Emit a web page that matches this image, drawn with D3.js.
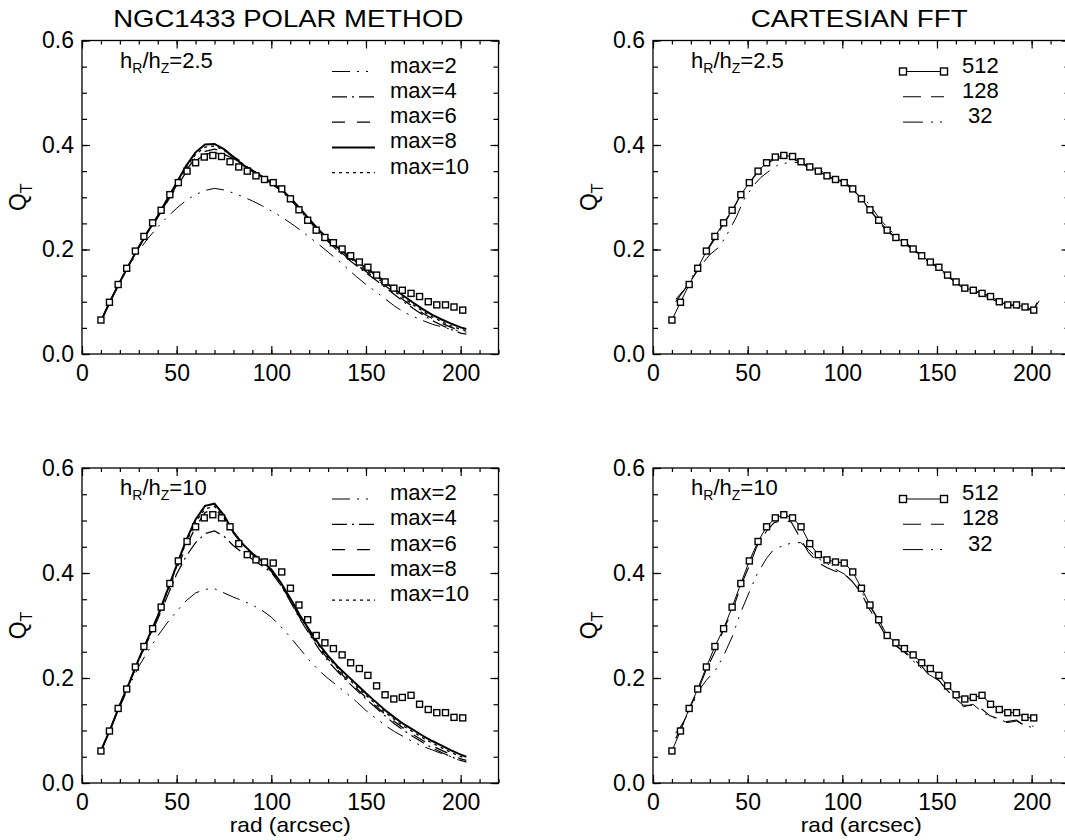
<!DOCTYPE html>
<html>
<head>
<meta charset="utf-8">
<script src="https://cdn.jsdelivr.net/npm/d3@7"></script>
<style>
  body { margin: 0; background: #fff; }
  svg { display: block; }
  text { font-family: "Liberation Sans", Arial, Helvetica, sans-serif; fill: #000; white-space: pre; }
</style>
</head>
<body>
<svg id="chart" width="1065" height="840"></svg>
<script>
// ---- data ----
var xTicks = [0, 50, 100, 150, 200];
var yTicks = [0.0, 0.2, 0.4, 0.6];
var titles = ["NGC1433 POLAR METHOD", "CARTESIAN FFT"];
var ratios = ["2.5", "10"];
var polarLegend = ["max=2", "max=4", "max=6", "max=8", "max=10"];
var fftLegend = ["512", "128", " 32"];

// 512 grid FFT points (squares), same in both columns
var radSq = [10.0, 14.5, 19.1, 23.6, 28.2, 32.7, 37.3, 41.8, 46.4, 50.9, 55.5, 60.0, 64.6, 69.1, 73.7, 78.2, 82.8, 87.3, 91.9, 96.4, 101.0,
  105.5, 110.1, 114.6, 119.2, 123.7, 128.3, 132.8, 137.4, 141.9, 146.5, 151.0, 155.6, 160.1, 164.7, 169.2, 173.8, 178.3, 182.9, 187.4, 192.0, 196.5, 201.1];
var sqLow = [0.065, 0.099, 0.133, 0.164, 0.197, 0.225, 0.251, 0.275, 0.305, 0.328, 0.350, 0.366, 0.377, 0.380, 0.378, 0.368, 0.358, 0.350, 0.341, 0.334, 0.328,
  0.316, 0.297, 0.276, 0.256, 0.237, 0.223, 0.213, 0.201, 0.188, 0.176, 0.166, 0.151, 0.138, 0.126, 0.122, 0.116, 0.110, 0.100, 0.094, 0.094, 0.090, 0.084];
var sqHigh = [0.061, 0.099, 0.142, 0.179, 0.221, 0.260, 0.294, 0.335, 0.380, 0.423, 0.460, 0.488, 0.505, 0.511, 0.505, 0.488, 0.456, 0.435, 0.425, 0.421, 0.419,
  0.402, 0.371, 0.339, 0.311, 0.281, 0.267, 0.256, 0.244, 0.229, 0.218, 0.205, 0.185, 0.168, 0.160, 0.163, 0.167, 0.150, 0.140, 0.134, 0.134, 0.125, 0.124];

// polar method curves
var radPolar = [10, 15, 20, 25, 30, 35, 40, 45, 50, 55, 60, 65, 70, 75, 80, 85, 90, 95, 100, 105, 110, 115, 120, 125, 130,
  135, 140, 145, 150, 155, 160, 165, 170, 175, 180, 185, 190, 195, 200, 203];
var max2Low = [0.063, 0.102, 0.137, 0.170, 0.198, 0.222, 0.243, 0.262, 0.279, 0.294, 0.305, 0.313, 0.317, 0.314, 0.308, 0.301, 0.293, 0.284, 0.274, 0.263,
  0.251, 0.238, 0.224, 0.210, 0.195, 0.180, 0.164, 0.148, 0.133, 0.120, 0.106, 0.092, 0.080, 0.072, 0.064, 0.057, 0.052, 0.047, 0.044, 0.042];
var max4Low = [0.063, 0.102, 0.138, 0.172, 0.204, 0.234, 0.261, 0.291, 0.320, 0.348, 0.370, 0.382, 0.385, 0.382, 0.374, 0.364, 0.351, 0.339, 0.326, 0.313,
  0.296, 0.276, 0.255, 0.234, 0.215, 0.198, 0.183, 0.169, 0.155, 0.142, 0.128, 0.114, 0.100, 0.087, 0.075, 0.064, 0.055, 0.047, 0.040, 0.038];
var max6Low = [0.063, 0.102, 0.138, 0.172, 0.205, 0.235, 0.262, 0.293, 0.323, 0.352, 0.375, 0.388, 0.392, 0.388, 0.378, 0.366, 0.352, 0.340, 0.327, 0.314,
  0.297, 0.277, 0.256, 0.235, 0.216, 0.200, 0.185, 0.171, 0.158, 0.145, 0.131, 0.117, 0.103, 0.090, 0.078, 0.068, 0.059, 0.051, 0.044, 0.042];
var max8Low = [0.063, 0.102, 0.138, 0.172, 0.205, 0.236, 0.264, 0.296, 0.328, 0.360, 0.386, 0.401, 0.402, 0.392, 0.377, 0.362, 0.350, 0.340, 0.328, 0.316,
  0.299, 0.279, 0.258, 0.238, 0.220, 0.204, 0.190, 0.177, 0.165, 0.152, 0.138, 0.124, 0.111, 0.098, 0.086, 0.075, 0.066, 0.058, 0.051, 0.048];
var max10Low = [0.063, 0.102, 0.138, 0.172, 0.205, 0.236, 0.263, 0.294, 0.325, 0.357, 0.382, 0.396, 0.398, 0.390, 0.377, 0.363, 0.350, 0.339, 0.327, 0.315,
  0.298, 0.278, 0.257, 0.236, 0.218, 0.202, 0.188, 0.174, 0.161, 0.148, 0.134, 0.120, 0.107, 0.094, 0.082, 0.071, 0.062, 0.054, 0.047, 0.045];

var max2High = [0.061, 0.102, 0.145, 0.185, 0.222, 0.252, 0.280, 0.305, 0.327, 0.347, 0.362, 0.369, 0.370, 0.362, 0.354, 0.347, 0.339, 0.329, 0.316, 0.298,
  0.278, 0.256, 0.234, 0.215, 0.199, 0.185, 0.170, 0.155, 0.138, 0.124, 0.110, 0.098, 0.088, 0.078, 0.070, 0.063, 0.056, 0.050, 0.042, 0.040];
var max4High = [0.061, 0.103, 0.148, 0.190, 0.233, 0.273, 0.312, 0.355, 0.398, 0.432, 0.458, 0.475, 0.480, 0.470, 0.452, 0.438, 0.426, 0.414, 0.401, 0.377,
  0.346, 0.313, 0.284, 0.256, 0.232, 0.212, 0.194, 0.177, 0.160, 0.144, 0.128, 0.113, 0.100, 0.088, 0.077, 0.067, 0.058, 0.050, 0.043, 0.040];
var max6High = [0.061, 0.103, 0.149, 0.191, 0.235, 0.276, 0.316, 0.362, 0.408, 0.450, 0.488, 0.515, 0.522, 0.505, 0.476, 0.453, 0.435, 0.420, 0.403, 0.378,
  0.348, 0.315, 0.287, 0.259, 0.236, 0.215, 0.197, 0.180, 0.163, 0.147, 0.131, 0.117, 0.104, 0.092, 0.081, 0.071, 0.062, 0.054, 0.046, 0.043];
var max8High = [0.061, 0.103, 0.149, 0.191, 0.236, 0.277, 0.318, 0.366, 0.415, 0.462, 0.502, 0.528, 0.532, 0.510, 0.478, 0.455, 0.437, 0.423, 0.407, 0.382,
  0.352, 0.320, 0.292, 0.265, 0.242, 0.222, 0.205, 0.188, 0.171, 0.155, 0.139, 0.125, 0.112, 0.101, 0.090, 0.080, 0.071, 0.062, 0.054, 0.050];
var max10High = [0.061, 0.103, 0.149, 0.191, 0.236, 0.277, 0.318, 0.365, 0.413, 0.458, 0.497, 0.522, 0.527, 0.507, 0.477, 0.454, 0.436, 0.422, 0.405, 0.380,
  0.350, 0.318, 0.290, 0.262, 0.239, 0.219, 0.201, 0.184, 0.167, 0.151, 0.135, 0.121, 0.108, 0.097, 0.086, 0.076, 0.067, 0.058, 0.050, 0.047];

// cartesian FFT coarser grids
var rad128Low = [12, 15, 19, 24, 28, 33, 37, 42, 46, 51, 55, 60, 64, 69, 73, 78, 82, 87, 92, 96, 101, 105, 110, 114, 119, 123,
  128, 133, 137, 142, 146, 151, 155, 160, 164, 169, 174, 178, 183, 187, 192, 196, 201, 203];
var q128Low = [0.100, 0.115, 0.135, 0.162, 0.195, 0.222, 0.248, 0.274, 0.303, 0.327, 0.347, 0.363, 0.373, 0.376, 0.375, 0.366, 0.357, 0.350, 0.341, 0.333,
  0.327, 0.316, 0.298, 0.277, 0.256, 0.236, 0.223, 0.212, 0.200, 0.187, 0.175, 0.165, 0.150, 0.137, 0.125, 0.121, 0.116, 0.110, 0.100, 0.094, 0.092, 0.088, 0.084, 0.100];
var rad32Low = [12, 17, 21, 26, 30, 35, 39, 44, 48, 53, 57, 62, 66, 71, 75, 80, 84, 89, 93, 98, 102, 107, 111, 116, 120, 125,
  129, 134, 138, 143, 147, 152, 156, 161, 165, 170, 174, 179, 183, 188, 192, 197, 201, 204];
var q32Low = [0.105, 0.125, 0.150, 0.172, 0.190, 0.205, 0.228, 0.262, 0.295, 0.322, 0.338, 0.352, 0.362, 0.366, 0.367, 0.363, 0.357, 0.350, 0.342, 0.334,
  0.326, 0.316, 0.300, 0.278, 0.257, 0.238, 0.224, 0.212, 0.200, 0.186, 0.173, 0.160, 0.147, 0.134, 0.124, 0.118, 0.112, 0.105, 0.098, 0.092, 0.088, 0.085, 0.084, 0.102];
var rad128High = [12, 15, 19, 24, 28, 33, 37, 42, 46, 51, 55, 60, 64, 69, 73, 78, 82, 87, 92, 96, 101, 105, 110, 114, 119, 123,
  128, 133, 137, 142, 146, 151, 155, 160, 164, 169, 174, 178, 183, 187, 192, 196, 201];
var q128High = [0.085, 0.105, 0.140, 0.178, 0.215, 0.252, 0.290, 0.328, 0.372, 0.415, 0.452, 0.480, 0.496, 0.500, 0.497, 0.465, 0.440, 0.420, 0.410, 0.404,
  0.398, 0.385, 0.362, 0.333, 0.305, 0.280, 0.262, 0.250, 0.238, 0.222, 0.205, 0.196, 0.178, 0.160, 0.148, 0.148, 0.140, 0.128, 0.122, 0.117, 0.120, 0.110, 0.108];
var rad32High = [12, 15, 19, 24, 28, 33, 37, 42, 46, 51, 55, 60, 64, 69, 73, 78, 82, 87, 92, 96, 101, 105, 110, 114, 119, 123,
  128, 133, 137, 142, 146, 151, 155, 160, 164, 169, 174, 178, 183, 187, 192, 196, 201];
var q32High = [0.095, 0.110, 0.135, 0.175, 0.195, 0.215, 0.240, 0.280, 0.322, 0.365, 0.398, 0.428, 0.446, 0.452, 0.457, 0.458, 0.445, 0.428, 0.418, 0.408,
  0.398, 0.385, 0.365, 0.340, 0.310, 0.285, 0.262, 0.248, 0.234, 0.218, 0.206, 0.195, 0.178, 0.160, 0.145, 0.150, 0.135, 0.126, 0.122, 0.115, 0.118, 0.110, 0.105];

// ---- drawing ----
var svg = d3.select("#chart");
var PW = 416.5;
var TICKFONT = 23;

var polarStyles = [
  { dash: "18,7,2,7,2,7", w: 1.0 },
  { dash: "15,5,2,5", w: 1.2 },
  { dash: "13,12", w: 1.3 },
  { dash: null, w: 2.0 },
  { dash: "3,4", w: 1.3 }
];
var fftStyles = [
  { dash: null, w: 1.0 },
  { dash: "18,10", w: 1.1 },
  { dash: "20,8,2,7,2,8", w: 1.0 }
];

function drawPanel(p) {
  var x = d3.scaleLinear().domain([0, 220]).range([p.left, p.left + PW]);
  var y = d3.scaleLinear().domain([0, 0.6]).range([p.bottom, p.top]);
  var g = svg.append("g");
  var right = p.left + PW;

  var minorX = d3.range(0, 221, 10), minorY = d3.range(0, 0.601, 0.05);

  function styleAxis(a) {
    a.select(".domain").remove();
    a.selectAll(".tick line").attr("stroke", "#000").attr("stroke-width", 1.2);
    a.selectAll("text").attr("font-size", TICKFONT).attr("font-family", null).attr("fill", "#000");
    a.attr("font-family", null).attr("font-size", null);
  }
  // minor ticks on all four sides
  styleAxis(g.append("g").attr("transform", "translate(0," + p.bottom + ")")
    .call(d3.axisBottom(x).tickValues(minorX).tickSize(-4).tickFormat("")));
  styleAxis(g.append("g").attr("transform", "translate(0," + p.top + ")")
    .call(d3.axisTop(x).tickValues(minorX).tickSize(-4).tickFormat("")));
  styleAxis(g.append("g").attr("transform", "translate(" + p.left + ",0)")
    .call(d3.axisLeft(y).tickValues(minorY).tickSize(-5).tickFormat("")));
  styleAxis(g.append("g").attr("transform", "translate(" + right + ",0)")
    .call(d3.axisRight(y).tickValues(minorY).tickSize(-5).tickFormat("")));
  // major ticks with labels
  styleAxis(g.append("g").attr("transform", "translate(0," + p.bottom + ")")
    .call(d3.axisBottom(x).tickValues(xTicks).tickSize(-8).tickPadding(11).tickFormat(d3.format("d"))));
  styleAxis(g.append("g").attr("transform", "translate(0," + p.top + ")")
    .call(d3.axisTop(x).tickValues(xTicks).tickSize(-8).tickFormat("")));
  styleAxis(g.append("g").attr("transform", "translate(" + p.left + ",0)")
    .call(d3.axisLeft(y).tickValues(yTicks).tickSize(-8).tickPadding(8).tickFormat(d3.format(".1f"))));
  styleAxis(g.append("g").attr("transform", "translate(" + right + ",0)")
    .call(d3.axisRight(y).tickValues(yTicks).tickSize(-8).tickFormat("")));

  g.append("rect").attr("x", p.left).attr("y", p.top).attr("width", PW).attr("height", p.bottom - p.top)
    .attr("fill", "none").attr("stroke", "#000").attr("stroke-width", 1.3);

  var line = d3.line().x(function (d) { return x(d[0]); }).y(function (d) { return y(d[1]); });

  p.curves.forEach(function (c) {
    g.append("path").datum(d3.zip(c.rad, c.q)).attr("d", line)
      .attr("fill", "none").attr("stroke", "#000").attr("stroke-width", c.style.w)
      .attr("stroke-dasharray", c.style.dash);
  });

  g.selectAll(".sq").data(d3.zip(radSq, p.squares)).enter().append("rect")
    .attr("x", function (d) { return x(d[0]) - 3; })
    .attr("y", function (d) { return y(d[1]) - 3; })
    .attr("width", 6).attr("height", 6)
    .attr("fill", "#fff").attr("stroke", "#000").attr("stroke-width", 1.4);

  // ratio annotation
  var ann = g.append("text").attr("x", p.left + 38).attr("y", p.top + 27).attr("font-size", 22);
  ann.append("tspan").text("h");
  ann.append("tspan").attr("font-size", 14).attr("dy", 5).text("R");
  ann.append("tspan").attr("dy", -5).text("/h");
  ann.append("tspan").attr("font-size", 14).attr("dy", 5).text("Z");
  ann.append("tspan").attr("dy", -5).text("=" + p.ratio);

  // legend
  p.legend.forEach(function (lab, i) {
    var ly = p.top + 31 + i * 25.3;
    var st = p.legendStyles[i];
    g.append("line").attr("x1", p.lx1).attr("x2", p.lx2).attr("y1", ly).attr("y2", ly)
      .attr("stroke", "#000").attr("stroke-width", st.w).attr("stroke-dasharray", st.dash);
    if (p.legendMarker && i === 0) {
      [p.lx1, p.lx2].forEach(function (mx) {
        g.append("rect").attr("x", mx - 3.5).attr("y", ly - 3.5).attr("width", 7).attr("height", 7)
          .attr("fill", "#fff").attr("stroke", "#000").attr("stroke-width", 1.4);
      });
    }
    g.append("text").attr("x", p.lx2 + (p.legendMarker ? 18 : 15)).attr("y", ly + 1)
      .attr("font-size", 22).text(lab);
  });

  // y label Q_T
  var cy = (p.top + p.bottom) / 2;
  var q = g.append("text").attr("transform", "translate(" + (p.left - 56) + "," + cy + ") rotate(-90)")
    .attr("text-anchor", "middle").attr("font-size", 23);
  q.append("tspan").text("Q");
  q.append("tspan").attr("font-size", 16).attr("dy", 6).text("T");

  if (p.title) {
    g.append("text").attr("x", p.left + PW / 2 - 2).attr("y", 27).attr("text-anchor", "middle")
      .attr("font-size", 24).attr("textLength", p.titleLen).attr("lengthAdjust", "spacingAndGlyphs")
      .text(p.title);
  }
  if (p.xlabel) {
    g.append("text").attr("x", p.left + PW / 2).attr("y", 832).attr("text-anchor", "middle")
      .attr("font-size", 21).attr("textLength", 121).attr("lengthAdjust", "spacingAndGlyphs")
      .text("rad (arcsec)");
  }
}

function polarCurves(a, b, c, d, e) {
  return [a, b, c, d, e].map(function (q, i) { return { rad: radPolar, q: q, style: polarStyles[i] }; });
}

var topY = [40.5, 354], botY = [468, 783];
var panels = [
  { left: 82, top: topY[0], bottom: topY[1], title: titles[0], titleLen: 350, ratio: ratios[0],
    squares: sqLow, curves: polarCurves(max2Low, max4Low, max6Low, max8Low, max10Low),
    legend: polarLegend, legendStyles: polarStyles, lx1: 332, lx2: 375, legendMarker: false },
  { left: 653, top: topY[0], bottom: topY[1], title: titles[1], titleLen: 217, ratio: ratios[0],
    squares: sqLow,
    curves: [{ rad: radSq, q: sqLow, style: fftStyles[0] },
             { rad: rad128Low, q: q128Low, style: fftStyles[1] },
             { rad: rad32Low, q: q32Low, style: fftStyles[2] }],
    legend: fftLegend, legendStyles: fftStyles, lx1: 903, lx2: 944, legendMarker: true },
  { left: 82, top: botY[0], bottom: botY[1], ratio: ratios[1], xlabel: true,
    squares: sqHigh, curves: polarCurves(max2High, max4High, max6High, max8High, max10High),
    legend: polarLegend, legendStyles: polarStyles, lx1: 332, lx2: 375, legendMarker: false },
  { left: 653, top: botY[0], bottom: botY[1], ratio: ratios[1], xlabel: true,
    squares: sqHigh,
    curves: [{ rad: radSq, q: sqHigh, style: fftStyles[0] },
             { rad: rad128High, q: q128High, style: fftStyles[1] },
             { rad: rad32High, q: q32High, style: fftStyles[2] }],
    legend: fftLegend, legendStyles: fftStyles, lx1: 903, lx2: 944, legendMarker: true }
];

panels.forEach(drawPanel);
</script>
</body>
</html>
